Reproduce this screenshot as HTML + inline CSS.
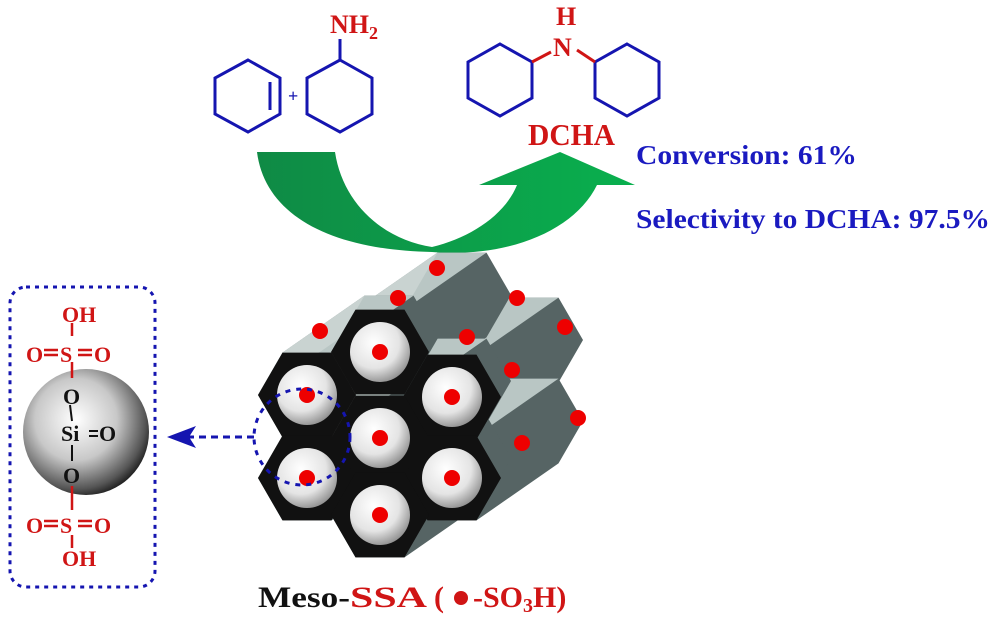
<!DOCTYPE html>
<html><head><meta charset="utf-8"><style>
html,body{margin:0;padding:0;background:#fff;width:1000px;height:623px;overflow:hidden}
svg{display:block}
text{font-family:"Liberation Serif",serif;font-weight:bold}
</style></head><body>
<svg id="s" width="1000" height="623" viewBox="0 0 1000 623" xmlns="http://www.w3.org/2000/svg">
<defs>
<radialGradient id="pore" cx="0.4" cy="0.35" r="0.7"><stop offset="0" stop-color="#ffffff"/><stop offset="0.6" stop-color="#e4e4e4"/><stop offset="1" stop-color="#8a8a8a"/></radialGradient>
<radialGradient id="sph" cx="0.42" cy="0.4" r="0.65"><stop offset="0" stop-color="#ffffff"/><stop offset="0.5" stop-color="#c8c8c8"/><stop offset="0.85" stop-color="#555"/><stop offset="1" stop-color="#111"/></radialGradient>
<linearGradient id="grn" x1="0" y1="0" x2="1" y2="0"><stop offset="0" stop-color="#0f8a45"/><stop offset="1" stop-color="#09b04e"/></linearGradient>
</defs>
<g fill="none" stroke="#1515b0" stroke-width="3">
<polygon points="248,60 280,78 280,114 248,132 215,114 215,78"/>
<line x1="270" y1="82" x2="270" y2="110"/>
<polygon points="340,60 372,78 372,114 340,132 307,114 307,78"/>
<polygon points="500,44 532,62 532,98 500,116 468,98 468,62"/>
<polygon points="627,44 659,62 659,98 627,116 595,98 595,62"/>
</g>
<line x1="340" y1="60" x2="340" y2="39" stroke="#1515b0" stroke-width="3"/>
<line x1="532" y1="62" x2="551" y2="52" stroke="#d01515" stroke-width="3"/>
<line x1="577" y1="50" x2="595" y2="62" stroke="#d01515" stroke-width="3"/>
<text x="288" y="102" font-size="18" fill="#1515b0">+</text>
<text x="330" y="33" font-size="26" fill="#d01515">NH<tspan font-size="18" dy="6">2</tspan></text>
<text x="556" y="25" font-size="26" fill="#d01515">H</text>
<text x="553" y="56" font-size="26" fill="#d01515">N</text>
<text x="528" y="145" font-size="31" fill="#d01515" textLength="87" lengthAdjust="spacingAndGlyphs">DCHA</text>
<path d="M257,152 L335,152 C343,205 385,240 432,247 C470,238 505,215 517,185 L479,185 L560,152 L635,185 L597,185 C575,230 510,258 432,252 C330,250 265,215 257,152 Z" fill="url(#grn)"/>
<text x="636" y="164" font-size="27" fill="#1a1ac0" textLength="221" lengthAdjust="spacingAndGlyphs">Conversion: 61%</text>
<text x="636" y="228" font-size="27" fill="#1a1ac0" textLength="354" lengthAdjust="spacingAndGlyphs">Selectivity to DCHA: 97.5%</text>
<g id="honey"></g>
<circle cx="302" cy="437" r="48" fill="none" stroke="#1515b0" stroke-width="3" stroke-dasharray="5,6"/>
<line x1="254" y1="437" x2="185" y2="437" stroke="#1515b0" stroke-width="3" stroke-dasharray="7,5"/>
<polygon points="167,437 196,426 189,437 196,448" fill="#1515b0"/>
<rect x="10" y="287" width="145" height="300" rx="16" fill="none" stroke="#1515b0" stroke-width="3" stroke-dasharray="4,5"/>
<circle cx="86" cy="432" r="63" fill="url(#sph)"/>
<g stroke="#d01515" stroke-width="2.5">
<line x1="72" y1="323" x2="72" y2="336"/><line x1="72" y1="362" x2="72" y2="378"/>
<line x1="44" y1="350" x2="58" y2="350"/><line x1="44" y1="355" x2="58" y2="355"/>
<line x1="78" y1="350" x2="92" y2="350"/><line x1="78" y1="355" x2="92" y2="355"/>
<line x1="72" y1="486" x2="72" y2="510"/><line x1="72" y1="535" x2="72" y2="548"/>
<line x1="44" y1="521" x2="58" y2="521"/><line x1="44" y1="526" x2="58" y2="526"/>
<line x1="78" y1="521" x2="92" y2="521"/><line x1="78" y1="526" x2="92" y2="526"/>
</g>
<g stroke="#111" stroke-width="2"><line x1="70" y1="405" x2="72" y2="421"/><line x1="72" y1="445" x2="72" y2="461"/><line x1="89" y1="431" x2="98" y2="431"/><line x1="89" y1="436" x2="98" y2="436"/></g>
<g font-size="22" fill="#d01515">
<text x="62" y="322">OH</text>
<text x="26" y="362">O</text><text x="60" y="362">S</text><text x="94" y="362">O</text>
<text x="26" y="533">O</text><text x="60" y="533">S</text><text x="94" y="533">O</text>
<text x="62" y="566">OH</text>
</g>
<g font-size="22" fill="#111">
<text x="63" y="404">O</text><text x="61" y="441">Si</text><text x="99" y="441">O</text><text x="63" y="483">O</text>
</g>
<text x="258" y="607" font-size="30" fill="#111" textLength="92" lengthAdjust="spacingAndGlyphs">Meso-</text>
<text x="350" y="607" font-size="30" fill="#d01515" textLength="77" lengthAdjust="spacingAndGlyphs">SSA</text>
<text x="434" y="607" font-size="30" fill="#d01515">(</text>
<circle cx="461" cy="598" r="7" fill="#d01515"/>
<text x="473" y="607" font-size="30" fill="#d01515">-SO<tspan font-size="20" dy="5">3</tspan><tspan dy="-5">H)</tspan></text>
</svg>
<script>
(function(){
var g=document.getElementById('honey'),NS='http://www.w3.org/2000/svg';
var R=49,h=42.4,dx=82,dy=-57;
var cs=[[380,352],[307,395],[452,397],[380,438],[307,478],[452,478],[380,515]];
function P(pts,f){var p=document.createElementNS(NS,'polygon');p.setAttribute('points',pts.map(function(q){return q[0].toFixed(1)+','+q[1].toFixed(1)}).join(' '));p.setAttribute('fill',f);g.appendChild(p);}
function C(x,y,r,f){var c=document.createElementNS(NS,'circle');c.setAttribute('cx',x);c.setAttribute('cy',y);c.setAttribute('r',r);c.setAttribute('fill',f);g.appendChild(c);}
function V(c){return [[c[0]+R,c[1]],[c[0]+R/2,c[1]+h],[c[0]-R/2,c[1]+h],[c[0]-R,c[1]],[c[0]-R/2,c[1]-h],[c[0]+R/2,c[1]-h]];}
function S(p){return [p[0]+dx,p[1]+dy];}
var order=cs.slice().sort(function(a,b){return (b[0]-b[1]*1.4)-(a[0]-a[1]*1.4);});
order.forEach(function(c){var v=V(c);
P([v[2],v[3],v[4],S(v[4]),S(v[5]),S(v[0]),S(v[1]),v[1]],'#566464');
P([v[4],v[5],S(v[5]),S(v[4])],'#b9c6c4');
P([v[3],v[4],S(v[4]),S(v[3])],'#c9d3d1');
});
cs.forEach(function(c){P(V(c),'#111');});
cs.forEach(function(c){C(c[0],c[1],30,'url(#pore)');});
cs.forEach(function(c){C(c[0],c[1],8,'#ee0000');});
[[437,268],[398,298],[320,331],[467,337],[517,298],[565,327],[512,370],[578,418],[522,443]].forEach(function(d){C(d[0],d[1],8,'#ee0000');});
})();
</script>
</body></html>
